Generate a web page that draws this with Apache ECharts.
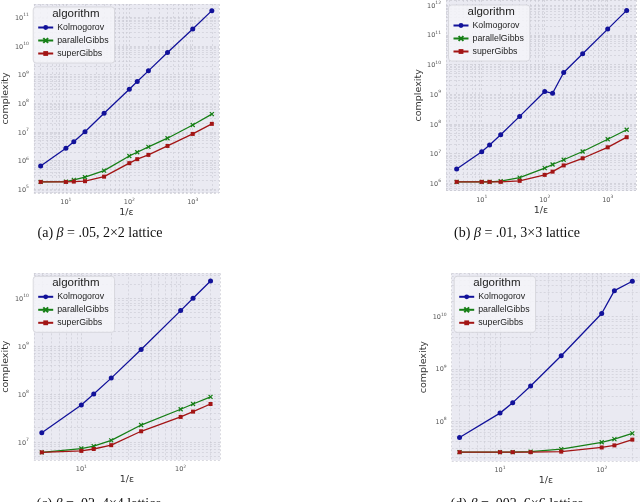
<!DOCTYPE html>
<html><head><meta charset="utf-8">
<script src="https://cdn.jsdelivr.net/npm/echarts@6/dist/echarts.min.js"></script>
<style>html,body{margin:0;padding:0;background:#fff}#c{width:640px;height:502px}</style>
</head><body><div id="c"></div>
<script>
// 1/epsilon values
const xLong = [4, 10, 13.33, 20, 40, 100, 133.3, 200, 400, 1000, 2000];
const xShort = [4, 10, 13.33, 20, 40, 100, 133.3, 200];

// (a) beta=.05, 2x2 lattice
const kolA = [6.46e5, 2.69e6, 4.57e6, 1.02e7, 4.47e7, 3.09e8, 5.75e8, 1.35e9, 5.89e9, 3.89e10, 1.70e11];
const parA = [1.80e5, 1.85e5, 2.12e5, 2.63e5, 4.47e5, 1.45e6, 1.95e6, 3.02e6, 6.03e6, 1.74e7, 4.17e7];
const supA = [1.80e5, 1.80e5, 1.85e5, 1.91e5, 2.75e5, 8.13e5, 1.12e6, 1.58e6, 3.24e6, 8.51e6, 1.91e7];
// (b) beta=.01, 3x3 lattice
const kolB = [3.02e6, 1.15e7, 1.95e7, 4.27e7, 1.78e8, 1.23e9, 1.07e9, 5.37e9, 2.29e10, 1.55e11, 6.61e11];
const parB = [1.11e6, 1.11e6, 1.11e6, 1.17e6, 1.55e6, 3.24e6, 4.27e6, 6.17e6, 1.17e7, 3.02e7, 6.31e7];
const supB = [1.11e6, 1.11e6, 1.11e6, 1.11e6, 1.20e6, 1.91e6, 2.45e6, 3.98e6, 6.92e6, 1.62e7, 3.55e7];
// (c) beta=.02, 4x4 lattice
const kolC = [1.55e7, 5.89e7, 1.0e8, 2.14e8, 8.51e8, 5.50e9, 1.0e10, 2.29e10];
const parC = [6.03e6, 7.24e6, 8.13e6, 1.07e7, 2.24e7, 4.79e7, 6.17e7, 8.71e7];
const supC = [6.03e6, 6.46e6, 7.08e6, 8.51e6, 1.66e7, 3.31e7, 4.27e7, 6.17e7];
// (d) beta=.002, 6x6 lattice
const kolD = [4.79e7, 1.41e8, 2.24e8, 4.68e8, 1.78e9, 1.15e10, 3.16e10, 4.79e10];
const parD = [2.51e7, 2.51e7, 2.51e7, 2.57e7, 2.88e7, 3.89e7, 4.47e7, 5.75e7];
const supD = [2.51e7, 2.51e7, 2.51e7, 2.51e7, 2.57e7, 3.09e7, 3.39e7, 4.37e7];

const names = ['Kolmogorov', 'parallelGibbs', 'superGibbs'];
const captions = [
  '(a) {i|β} = .05, 2×2 lattice',
  '(b) {i|β} = .01, 3×3 lattice',
  '(c) {i|β} = .02, 4×4 lattice',
  '(d) {i|β} = .002, 6×6 lattice'
];

const panels = [
  {x: xLong, d: [kolA, parA, supA], g: {left: 30.7, top: 4, width: 188.3, height: 189}, xr: [3.13, 2594], yr: [7.4e4, 2.9e11], cap: [100, 233]},
  {x: xLong, d: [kolB, parB, supB], g: {left: 446, top: 0, width: 190, height: 190.7}, xr: [2.71, 2812], yr: [5.6e5, 1.48e12], cap: [517, 233]},
  {x: xShort, d: [kolC, parC, supC], g: {left: 30.7, top: 273.3, width: 189.3, height: 186.7}, xr: [3.33, 249], yr: [4.17e6, 3.31e10], cap: [99, 504]},
  {x: xShort, d: [kolD, parD, supD], g: {left: 451.7, top: 273.3, width: 189, height: 187.7}, xr: [3.35, 238], yr: [1.7e7, 6.8e10], cap: [517, 504]}
];

const colors = ['#12129a', '#167f16', '#a31515'];
const symbols = ['circle', 'path://M0,0L10,10M10,0L0,10', 'rect'];
const symSizes = [5, 4, 4];

const gridLine = {show: true, lineStyle: {color: '#c9c9d2', width: 0.7, type: [2, 2]}};
const labelRich = {
  b: {fontSize: 6.5, color: '#555', fontFamily: 'DejaVu Sans', verticalAlign: 'bottom'},
  s: {fontSize: 4.5, color: '#555', fontFamily: 'DejaVu Sans', verticalAlign: 'bottom', padding: [0, 0, 4, 0]}
};
function supFmt(v) { const e = Math.round(Math.log10(v)); return '{b|10}{s|' + e + '}'; }

const grid = [], xAxis = [], yAxis = [], series = [], legend = [], graphic = [];
panels.forEach((p, k) => {
  grid.push(Object.assign({show: true, backgroundColor: '#eaeaf2', borderWidth: 0, containLabel: false}, p.g));
  const common = {
    type: 'log', logBase: 10, gridIndex: k,
    axisLine: {show: false}, axisTick: {show: false},
    splitLine: gridLine,
    minorTick: {show: false, splitNumber: 9},
    minorSplitLine: {show: true, lineStyle: {color: '#c9c9d2', width: 0.6, type: [2, 2]}},
    axisLabel: {formatter: supFmt, rich: labelRich, showMinLabel: false, showMaxLabel: false},
    nameTextStyle: {fontSize: 9.5, color: '#333', fontFamily: 'DejaVu Sans'}
  };
  xAxis.push(Object.assign({}, common, {min: p.xr[0], max: p.xr[1], name: '1/ε', nameLocation: 'middle', nameGap: 15,
    axisLabel: Object.assign({}, common.axisLabel, {margin: 4})}));
  yAxis.push(Object.assign({}, common, {min: p.yr[0], max: p.yr[1], name: 'complexity', nameLocation: 'middle', nameGap: 21,
    axisLabel: Object.assign({}, common.axisLabel, {margin: 5})}));
  names.forEach((n, j) => {
    series.push({
      type: 'line', name: n, xAxisIndex: k, yAxisIndex: k,
      data: p.x.map((xv, i) => [xv, p.d[j][i]]),
      symbol: symbols[j], symbolSize: symSizes[j], showAllSymbol: true,
      lineStyle: {color: colors[j], width: 1.3},
      itemStyle: {color: colors[j], borderColor: colors[j], borderWidth: j === 1 ? 1.2 : 0},
      emphasis: {disabled: true}, animation: false, z: 3 + j
    });
  });
  const lx = p.g.left + 2.5, ly = p.g.top + (k === 1 ? 5 : 3);
  legend.push({
    orient: 'vertical', left: lx, top: ly, data: names,
    itemWidth: 15, itemHeight: 6, itemGap: 4,
    padding: [16, 6, 5, 4],
    backgroundColor: 'rgba(245,245,249,0.85)', borderColor: '#d2d2d8', borderWidth: 0.8, borderRadius: 3,
    textStyle: {fontSize: 8.8, color: '#222', fontFamily: 'Liberation Sans', padding: [0, 0, 0, -1]},
    selectedMode: false
  });
  graphic.push({type: 'text', z: 100, left: lx + 19, top: ly + 1,
    style: {text: 'algorithm', fontSize: 11.5, fill: '#222', fontFamily: 'Liberation Sans'}});
  graphic.push({type: 'text', z: 100, x: p.cap[0], y: p.cap[1],
    style: {text: captions[k], fontSize: 14, fill: '#111', fontFamily: 'Liberation Serif', align: 'center', verticalAlign: 'middle',
      rich: {i: {fontStyle: 'italic', fontSize: 14, fontFamily: 'Liberation Serif', fill: '#111'}}}});
});

const chart = echarts.init(document.getElementById('c'), null, {renderer: 'canvas'});
chart.setOption({animation: false, grid, xAxis, yAxis, series, legend, graphic});
</script></body></html>
